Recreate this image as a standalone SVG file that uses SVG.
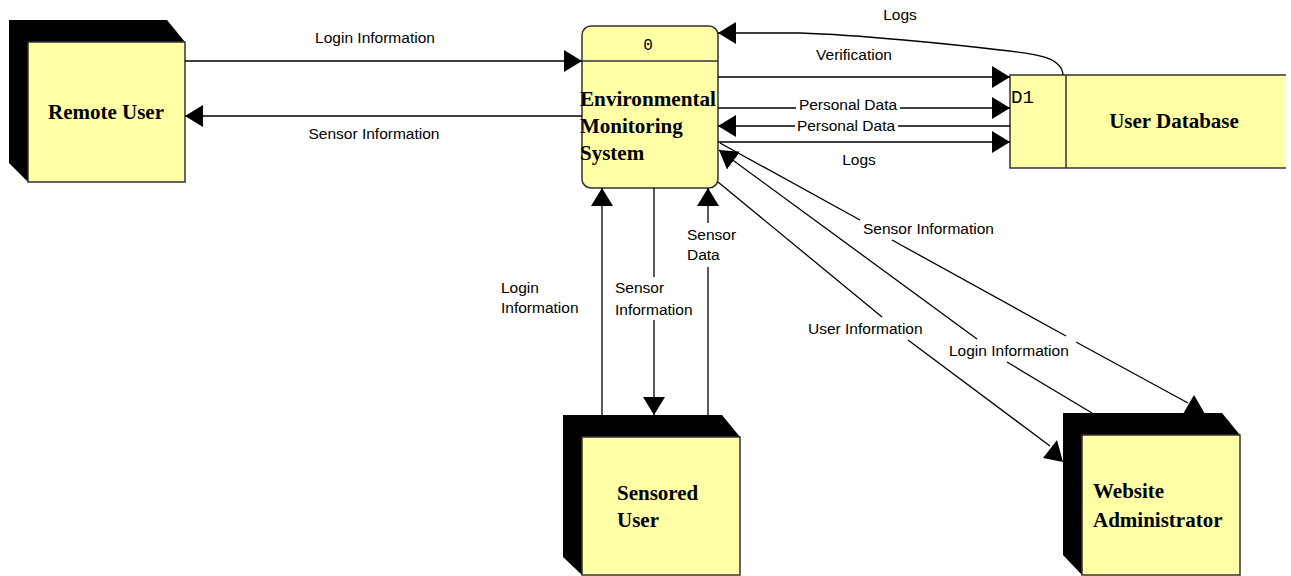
<svg xmlns="http://www.w3.org/2000/svg" width="1291" height="576" viewBox="0 0 1291 576">
<style>
.fill{fill:#FFFFA6;stroke:#333;stroke-width:1.5}
.shadow{fill:#000}
.t{font-family:"Liberation Serif",serif;font-weight:bold;font-size:21px;fill:#000}
.lbl{font-family:"Liberation Sans",Arial,sans-serif;font-size:15.5px;fill:#000}
.mono{font-family:"Liberation Mono",monospace;fill:#000}
.ln{stroke:#000;stroke-width:1.3;fill:none}
.ah{fill:#000}
</style>
<defs>
<marker id="arr" markerUnits="userSpaceOnUse" markerWidth="20" markerHeight="22" refX="18" refY="11" orient="auto">
<path d="M0,0 L18,11 L0,22 z" fill="#000"/>
</marker>
</defs>
<rect width="1291" height="576" fill="#fff"/>

<g id="remote-user">
<polygon class="shadow" points="9,20 167,20 185,42 185,182 28,182 9,163"/>
<rect class="fill" x="28" y="42" width="157" height="140"/>
<text class="t" x="106" y="119" text-anchor="middle">Remote User</text>
</g>

<g id="process">
<rect class="fill" x="582" y="26" width="136" height="162" rx="9"/>
<line x1="582" y1="61" x2="718" y2="61" stroke="#333" stroke-width="1.5"/>
<text class="mono" x="648" y="50" font-size="16" text-anchor="middle">0</text>
<text class="t" x="580" y="106" textLength="136" lengthAdjust="spacingAndGlyphs">Environmental</text>
<text class="t" x="580" y="133">Monitoring</text>
<text class="t" x="580" y="160">System</text>
</g>

<g id="user-database">
<rect x="1010" y="75" width="276" height="93" fill="#FFFFA6"/>
<path d="M1286,75 H1010 V168 H1286 M1066,75 V168" stroke="#333" stroke-width="1.5" fill="none"/>
<text class="mono" x="1011" y="103" font-size="19" textLength="23" lengthAdjust="spacingAndGlyphs">D1</text>
<text class="t" x="1174" y="128" text-anchor="middle">User Database</text>
</g>

<g id="sensored-user">
<polygon class="shadow" points="563,415 722,415 740,437 740,575 582,575 563,557"/>
<rect class="fill" x="582" y="437" width="158" height="138"/>
<text class="t" x="617" y="500">Sensored</text>
<text class="t" x="617" y="527">User</text>
</g>

<g id="website-administrator">
<polygon class="shadow" points="1063,413 1222,413 1240,435 1240,575 1082,575 1063,555"/>
<rect class="fill" x="1082" y="435" width="158" height="140"/>
<text class="t" x="1093" y="498">Website</text>
<text class="t" x="1093" y="527">Administrator</text>
</g>

<g id="connectors">
<line class="ln" x1="185" y1="61" x2="582" y2="61" marker-end="url(#arr)"/>
<line class="ln" x1="582" y1="116" x2="185" y2="116" marker-end="url(#arr)"/>
<path class="ln" d="M1063,75 C1062,58 1040,54 1000,50 C950,44 860,35 800,33 L718,33" marker-end="url(#arr)"/>
<line class="ln" x1="718" y1="77" x2="1010" y2="77" marker-end="url(#arr)"/>
<line class="ln" x1="718" y1="108" x2="796" y2="108"/>
<line class="ln" x1="900" y1="108" x2="1010" y2="108" marker-end="url(#arr)"/>
<line class="ln" x1="1010" y1="126" x2="898" y2="126"/>
<line class="ln" x1="795" y1="126" x2="718" y2="126" marker-end="url(#arr)"/>
<line class="ln" x1="718" y1="142" x2="1010" y2="142" marker-end="url(#arr)"/>
<line class="ln" x1="602" y1="415" x2="602" y2="188" marker-end="url(#arr)"/>
<line class="ln" x1="654" y1="188" x2="654" y2="277"/>
<line class="ln" x1="654" y1="320" x2="654" y2="415" marker-end="url(#arr)"/>
<line class="ln" x1="708" y1="415" x2="708" y2="267"/>
<line class="ln" x1="708" y1="223" x2="708" y2="188" marker-end="url(#arr)"/>
<line class="ln" x1="720" y1="143" x2="860" y2="220"/>
<line class="ln" x1="892" y1="240" x2="1066" y2="336"/>
<line class="ln" x1="1076" y1="342" x2="1188" y2="403"/>
<polygon class="ah" points="1194,395 1183,414 1205,414"/>
<line class="ln" x1="718" y1="182" x2="882" y2="317"/>
<line class="ln" x1="908" y1="340" x2="1050" y2="446"/>
<polygon class="ah" points="1057,440 1043,458 1063,462"/>
<line class="ln" x1="1092" y1="413" x2="1007" y2="362"/>
<line class="ln" x1="977" y1="339" x2="719" y2="150" marker-end="url(#arr)"/>
</g>

<g id="labels">
<text class="lbl" x="375" y="43" text-anchor="middle">Login Information</text>
<text class="lbl" x="374" y="139" text-anchor="middle">Sensor Information</text>
<text class="lbl" x="900" y="20" text-anchor="middle">Logs</text>
<text class="lbl" x="854" y="60" text-anchor="middle">Verification</text>
<text class="lbl" x="848" y="110" text-anchor="middle">Personal Data</text>
<text class="lbl" x="846" y="131" text-anchor="middle">Personal Data</text>
<text class="lbl" x="859" y="165" text-anchor="middle">Logs</text>
<text class="lbl" x="501" y="293">Login</text>
<text class="lbl" x="501" y="313">Information</text>
<text class="lbl" x="615" y="293">Sensor</text>
<text class="lbl" x="615" y="315">Information</text>
<text class="lbl" x="687" y="240">Sensor</text>
<text class="lbl" x="687" y="260">Data</text>
<text class="lbl" x="863" y="234">Sensor Information</text>
<text class="lbl" x="808" y="334">User Information</text>
<text class="lbl" x="949" y="356">Login Information</text>
</g>
</svg>
